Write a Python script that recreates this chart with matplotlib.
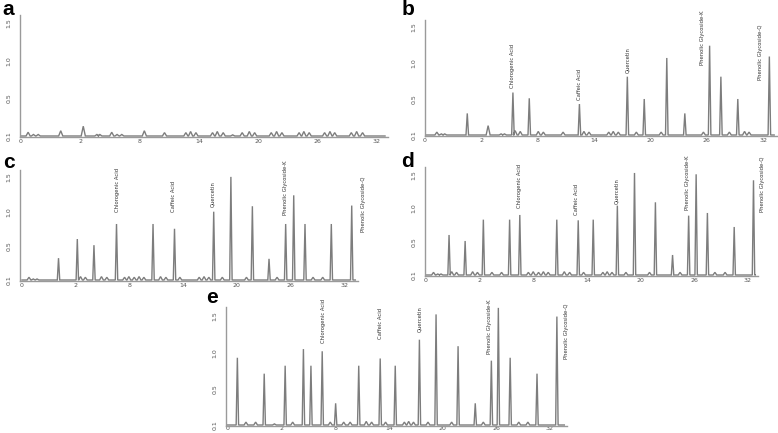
import numpy as np
import matplotlib
matplotlib.use("Agg")
import matplotlib.pyplot as plt

# --------------------------------------
# Data (x in tick-index units; tick labels are unevenly numbered)
# --------------------------------------
X_TICK_LABELS = ["0", "2", "8", "14", "20", "26", "32"]
Y_TICKS = [0.0, 0.5, 1.0, 1.5]
Y_TICK_LABELS = ["0.1", "0.5", "1.0", "1.5"]

COMPOUNDS = ["Chlorogenic Acid", "Caffeic Acid", "Quercetin",
             "Phenolic Glycoside-K", "Phenolic Glycoside-Q"]

# panel a: blank / control
a_pos = [0.12, 0.21, 0.29, 0.67, 1.05, 1.28, 1.33, 1.53, 1.62, 1.70, 2.08, 2.42,
         2.78, 2.86, 2.95, 3.23, 3.31, 3.41, 3.57, 3.73, 3.85, 3.94,
         4.22, 4.31, 4.40, 4.69, 4.77, 4.86, 5.12, 5.21, 5.29, 5.57, 5.66, 5.76]
a_h = [0.05, 0.02, 0.02, 0.07, 0.13, 0.02, 0.02, 0.05, 0.02, 0.02, 0.07, 0.045,
       0.045, 0.06, 0.045, 0.045, 0.06, 0.045, 0.015, 0.045, 0.06, 0.045,
       0.045, 0.06, 0.045, 0.045, 0.06, 0.045, 0.045, 0.06, 0.045, 0.045, 0.06, 0.045]

b_pos = [0.21, 0.29, 0.35, 0.75, 1.12, 1.35, 1.41, 1.56, 1.60, 1.69, 1.85, 2.01,
         2.10, 2.45, 2.74, 2.82, 2.91, 3.26, 3.34, 3.43, 3.59, 3.75, 3.89, 4.19,
         4.29, 4.61, 4.94, 5.05, 5.25, 5.40, 5.55, 5.67, 5.75, 6.11]
b_h = [0.04, 0.015, 0.015, 0.30, 0.13, 0.015, 0.015, 0.59, 0.06, 0.05, 0.51, 0.05,
       0.04, 0.04, 0.43, 0.05, 0.04, 0.04, 0.05, 0.04, 0.81, 0.04, 0.50, 0.04,
       1.07, 0.30, 0.04, 1.24, 0.81, 0.04, 0.50, 0.05, 0.04, 1.09]

c_pos = [0.13, 0.21, 0.28, 0.68, 1.03, 1.09, 1.18, 1.34, 1.48, 1.58, 1.76, 1.91,
         1.99, 2.09, 2.18, 2.27, 2.44, 2.58, 2.68, 2.84, 2.94, 3.30, 3.39, 3.48,
         3.57, 3.73, 3.89, 4.18, 4.29, 4.60, 4.75, 4.91, 5.06, 5.27, 5.42, 5.60,
         5.76, 6.14]
c_h = [0.04, 0.015, 0.015, 0.32, 0.60, 0.05, 0.04, 0.51, 0.05, 0.04, 0.82, 0.04,
       0.05, 0.04, 0.05, 0.04, 0.82, 0.05, 0.04, 0.75, 0.04, 0.04, 0.05, 0.04,
       1.00, 0.04, 1.51, 0.04, 1.08, 0.31, 0.04, 0.82, 1.24, 0.82, 0.04, 0.04,
       0.82, 1.09]

d_pos = [0.14, 0.22, 0.28, 0.43, 0.48, 0.57, 0.73, 0.87, 0.96, 1.07, 1.23, 1.41,
         1.56, 1.75, 1.91, 2.00, 2.10, 2.19, 2.28, 2.44, 2.58, 2.68, 2.84, 2.94,
         3.12, 3.30, 3.38, 3.47, 3.57, 3.73, 3.89, 4.17, 4.28, 4.60, 4.74, 4.90,
         5.04, 5.25, 5.39, 5.58, 5.75, 6.11]
d_h = [0.04, 0.015, 0.015, 0.60, 0.05, 0.04, 0.51, 0.05, 0.04, 0.83, 0.04, 0.04,
       0.83, 0.90, 0.04, 0.05, 0.04, 0.05, 0.04, 0.83, 0.05, 0.04, 0.82, 0.04,
       0.83, 0.04, 0.05, 0.04, 1.04, 0.04, 1.53, 0.04, 1.09, 0.30, 0.04, 0.89,
       1.51, 0.93, 0.04, 0.04, 0.72, 1.42]

e_pos = [0.18, 0.34, 0.52, 0.68, 0.87, 1.07, 1.21, 1.41, 1.55, 1.76, 1.91, 2.01,
         2.16, 2.28, 2.44, 2.58, 2.68, 2.84, 2.94, 3.12, 3.29, 3.37, 3.46, 3.57,
         3.73, 3.88, 4.17, 4.29, 4.61, 4.76, 4.91, 5.04, 5.26, 5.42, 5.59, 5.76,
         6.13]
e_h = [0.93, 0.04, 0.04, 0.71, 0.015, 0.82, 0.04, 1.05, 0.82, 1.02, 0.04, 0.30,
       0.04, 0.04, 0.82, 0.05, 0.04, 0.92, 0.04, 0.82, 0.04, 0.05, 0.04, 1.18,
       0.04, 1.53, 0.04, 1.09, 0.30, 0.04, 0.89, 1.62, 0.93, 0.04, 0.04, 0.71,
       1.50]

# label anchors (x, bottom y) for the five compounds in each panel
b_lab = [(1.56, 0.65), (2.75, 0.49), (3.60, 0.86), (4.93, 0.97), (5.95, 0.76)]
c_lab = [(1.77, 0.99), (2.82, 1.00), (3.56, 1.07), (4.90, 0.95), (6.36, 0.71)]
d_lab = [(1.75, 1.00), (2.81, 0.90), (3.56, 1.07), (4.88, 0.97), (6.28, 0.95)]
e_lab = [(1.78, 1.14), (2.84, 1.19), (3.57, 1.28), (4.88, 0.98), (6.31, 0.91)]

# --------------------------------------
# Layout (pixels of the 778x433 figure)
# --------------------------------------
W, H = 778, 433
# left, right, top, bottom(px), x origin px, px per tick, px per unit, x label pad
PANELS = {
    "a": (20, 388, 15, 137, 21, 59.3, 75.3, 1.5),
    "b": (425, 777, 20, 136, 421, 57.0, 72.0, 1.5),
    "c": (20, 358, 170, 281, 22, 53.7, 68.3, 1.5),
    "d": (425, 758, 167, 276, 426, 53.6, 66.7, 1.5),
    "e": (226, 567, 307, 426, 227.7, 53.7, 72.3, 0.3),
}
LETTER_POS = {"a": (2, 15), "b": (402, 15), "c": (3, 168), "d": (401, 167), "e": (206, 303)}

TRACE = "#7d7d7d"
AXIS = "#9a9a9a"
LABEL_FONT = ["Liberation Sans Narrow", "DejaVu Sans"]


def trace(pos, h, x0, x1):
    xs, ys = [x0], [0.0]
    for p, v in zip(pos, h):
        w = 0.045 if v > 0.2 else 0.07
        xs += [p - w / 2, p, p + w / 2]
        ys += [0.0, v, 0.0]
    xs.append(x1)
    ys.append(0.0)
    return xs, ys


def make_axes(fig, name):
    l, r, t, b, ox, ppt, ppu, xpad = PANELS[name]
    ax = fig.add_axes([l / W, 1 - b / H, (r - l) / W, (b - t) / H])
    ax.set_xlim((l - ox) / ppt, (r - ox) / ppt)
    base = b - 1
    ax.set_ylim(-(b - base) / ppu, (base - t) / ppu)
    for s in ("top", "right"):
        ax.spines[s].set_visible(False)
    for s in ("left", "bottom"):
        ax.spines[s].set_color(AXIS)
        ax.spines[s].set_linewidth(1.0)
    ax.set_xticks(range(len(X_TICK_LABELS)))
    ax.set_xticklabels(X_TICK_LABELS, fontsize=4.5, color="#555555")
    ax.set_yticks(Y_TICKS)
    ax.set_yticklabels(Y_TICK_LABELS, fontsize=4.5, color="#555555",
                       rotation=90, va="center")
    ax.tick_params(axis="both", length=0)
    ax.tick_params(axis="x", pad=xpad)
    ax.tick_params(axis="y", pad=6)
    ax.patch.set_alpha(0)
    lx, ly = LETTER_POS[name]
    fig.text(lx / W, 1 - ly / H, name, fontsize=15, fontweight="bold",
             family="Liberation Sans", ha="left", va="baseline")
    return ax


fig = plt.figure(figsize=(W / 100, H / 100), dpi=100)

series = {
    "a": (a_pos, a_h, None),
    "b": (b_pos, b_h, b_lab),
    "c": (c_pos, c_h, c_lab),
    "d": (d_pos, d_h, d_lab),
    "e": (e_pos, e_h, e_lab),
}

for name, (pos, h, labs) in series.items():
    ax = make_axes(fig, name)
    x0, x1 = ax.get_xlim()
    xs, ys = trace(pos, h, max(x0, 0.0), x1 - 0.05)
    ax.plot(xs, ys, color=TRACE, lw=1.0, solid_joinstyle="miter")
    if labs:
        for txt, (lx, ly) in zip(COMPOUNDS, labs):
            ax.text(lx, ly, txt, rotation=90, ha="center", va="bottom",
                    fontsize=3.8, family=LABEL_FONT, color="#333333",
                    clip_on=False)

fig.savefig("out.png", dpi=100)
